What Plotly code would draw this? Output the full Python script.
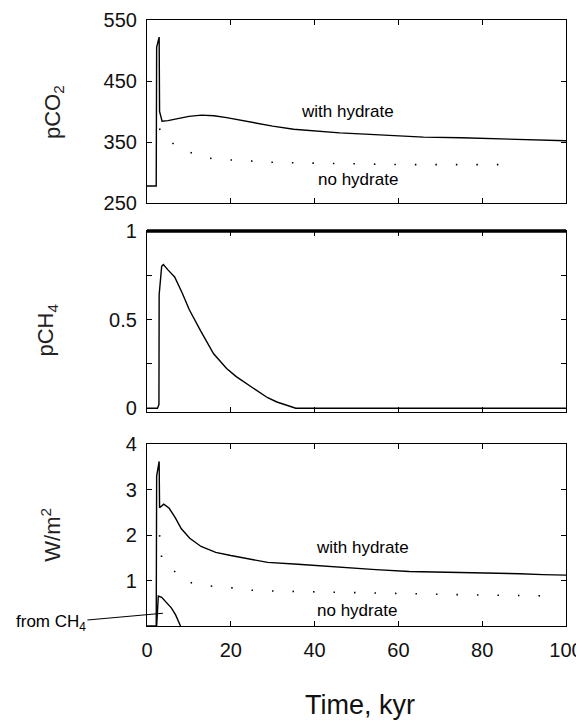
import plotly.graph_objects as go

# ---------------- data ----------------
# Panel 1: pCO2
t_co2_hyd = [0, 2.2, 2.3, 2.5, 2.9, 3.0, 3.3, 3.6, 5, 7, 10, 13, 16, 19, 22, 26, 30, 35, 40, 46, 52, 58, 66, 75, 84, 92, 100]
co2_hyd = [278, 278, 505, 512, 522, 400, 390, 384, 385, 388, 392, 394, 393, 390, 386, 381, 376, 371, 368, 365, 363, 361, 358, 357, 355, 353, 352]
t_co2_no = [3.0, 3.5, 5.7, 7.6, 10.3, 12.5, 15.4, 17.8, 23, 28, 35, 41, 50, 60, 70, 80, 88]
co2_no = [372, 360, 350, 341, 333, 327, 323, 321, 320, 317, 316, 315, 314, 313, 313, 313, 313]

# Panel 2: pCH4
t_ch4 = [0, 2.5, 2.85, 2.9, 3.5, 3.9, 5, 6.6, 8.4, 10.1, 12.8, 15.9, 19, 21.3, 25.3, 28.8, 31, 33.7, 35.5, 100]
ch4 = [0, 0, 0.02, 0.64, 0.80, 0.81, 0.78, 0.74, 0.65, 0.555, 0.436, 0.307, 0.224, 0.178, 0.114, 0.059, 0.035, 0.013, 0.0, 0.0]

# Panel 3: radiative forcing W/m2
t_f_hyd = [0, 2.2, 2.3, 2.5, 2.9, 3.0, 4, 5.3, 6.7, 8.2, 10.2, 12.9, 16.4, 20, 25.3, 28.8, 36, 44.8, 54.6, 62.6, 75, 89, 94.5, 100]
f_hyd = [0, 0, 3.3, 3.45, 3.62, 2.6, 2.68, 2.59, 2.39, 2.14, 1.93, 1.75, 1.62, 1.55, 1.46, 1.40, 1.36, 1.30, 1.24, 1.20, 1.18, 1.15, 1.13, 1.12]
t_f_no = [3.0, 3.5, 5.3, 9, 11.5, 16.9, 21.7, 24.4, 29.7, 35, 48, 66, 80, 97]
f_no = [2.0, 1.5, 1.31, 1.0, 0.92, 0.86, 0.83, 0.79, 0.77, 0.76, 0.74, 0.70, 0.68, 0.66]
t_f_ch4 = [2.3, 2.7, 3.5, 4.5, 5.8, 6.8, 7.5, 8.0]
f_ch4 = [0, 0.66, 0.63, 0.52, 0.40, 0.25, 0.11, 0]

x_ticks = [0, 20, 40, 60, 80, 100]

# ---------------- figure ----------------
FONT = "Liberation Sans, Arial, sans-serif"
solid = dict(color="black", width=1.4)
dotted = dict(color="black", width=1.6, dash="1.5px,19px")

fig = go.Figure()
fig.add_trace(go.Scatter(x=t_co2_hyd, y=co2_hyd, mode="lines", line=solid, xaxis="x", yaxis="y"))
fig.add_trace(go.Scatter(x=t_co2_no, y=co2_no, mode="lines", line=dotted, xaxis="x", yaxis="y"))
fig.add_trace(go.Scatter(x=t_ch4, y=ch4, mode="lines", line=solid, xaxis="x2", yaxis="y2"))
fig.add_trace(go.Scatter(x=t_f_hyd, y=f_hyd, mode="lines", line=solid, xaxis="x3", yaxis="y3"))
fig.add_trace(go.Scatter(x=t_f_no, y=f_no, mode="lines", line=dotted, xaxis="x3", yaxis="y3"))
fig.add_trace(go.Scatter(x=t_f_ch4, y=f_ch4, mode="lines", line=solid, xaxis="x3", yaxis="y3"))

axis_common = dict(showline=True, linecolor="black", linewidth=1.2, mirror="allticks",
                   ticks="inside", ticklen=5, tickcolor="black", showgrid=False, zeroline=False,
                   automargin=False,
                   tickfont=dict(family=FONT, size=20, color="#111"))

xcommon = dict(axis_common, range=[0, 100], tickvals=x_ticks)
fig.update_layout(
    xaxis=dict(xcommon, anchor="y", showticklabels=False),
    xaxis2=dict(xcommon, anchor="y2", showticklabels=False),
    xaxis3=dict(xcommon, anchor="y3", ticktext=[str(v) for v in x_ticks], ticklabelstandoff=6),
    yaxis=dict(axis_common, domain=[0.698, 1.0], range=[250, 550], tickvals=[250, 350, 450, 550],
               ticklabelstandoff=5),
    yaxis2=dict(axis_common, domain=[0.353, 0.652], range=[-0.022, 1.0],
                tickvals=[0, 0.25, 0.5, 0.75, 1], ticktext=["0", "", "0.5", "", "1"], ticklabelstandoff=5),
    yaxis3=dict(axis_common, domain=[0.0, 0.300], range=[0, 4],
                tickvals=[0, 1, 2, 3, 4], ticktext=["", "1", "2", "3", "4"], ticklabelstandoff=5),
)

# thick top edge of the pCH4 panel
fig.add_shape(type="line", xref="x2 domain", yref="y2 domain", x0=0, x1=1, y0=1, y1=1,
              line=dict(color="black", width=3.5))

lab = dict(family=FONT, size=17, color="black")
C = dict(xanchor="center", yanchor="middle", showarrow=False)
ttl = dict(family=FONT, size=22, color="#222")
ann = [
    dict(C, x=47.8, y=400, xref="x", yref="y", text="with hydrate", font=lab),
    dict(C, x=50.4, y=288, xref="x", yref="y", text="no hydrate", font=lab),
    dict(C, x=51.5, y=1.73, xref="x3", yref="y3", text="with hydrate", font=lab),
    dict(C, x=50.0, y=0.35, xref="x3", yref="y3", text="no hydrate", font=lab),
    dict(x=3.8, y=0.28, xref="x3", yref="y3", text="from CH<sub>4</sub>", showarrow=True,
         arrowhead=0, arrowwidth=1.2, arrowcolor="black", ax=-112, ay=10,
         font=dict(family=FONT, size=17, color="black")),
    dict(C, x=-0.222, y=0.848, xref="paper", yref="paper", text="pCO<sub>2</sub>", textangle=-90, font=ttl),
    dict(C, x=-0.238, y=0.488, xref="paper", yref="paper", text="pCH<sub>4</sub>", textangle=-90, font=ttl),
    dict(C, x=-0.23, y=0.150, xref="paper", yref="paper", text="W/m<sup>2</sup>", textangle=-90, font=ttl),
    dict(C, x=0.508, y=-0.131, xref="paper", yref="paper", text="Time, kyr",
         font=dict(family=FONT, size=27, color="#111")),
]
fig.update_layout(
    annotations=ann,
    width=576, height=720,
    margin=dict(l=139, r=18, t=12, b=102),
    paper_bgcolor="white", plot_bgcolor="white",
    showlegend=False,
)

fig.write_html("out.html")
